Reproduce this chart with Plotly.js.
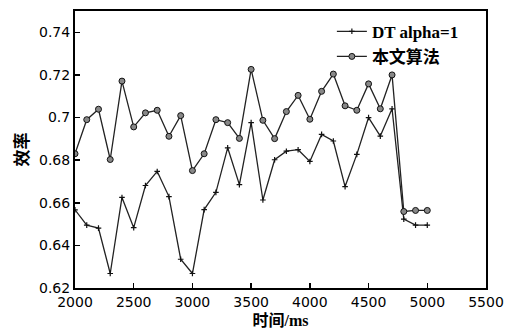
<!DOCTYPE html>
<html>
<head>
<meta charset="utf-8">
<script src="https://cdn.plot.ly/plotly-3.0.1.min.js"></script>
<style>html,body{margin:0;padding:0;background:#fff;}#chart{width:507px;height:329px;}</style>
</head>
<body>
<div id="chart"></div>
<script>
const timeMs = [2000,2100,2200,2300,2400,2500,2600,2700,2800,2900,3000,3100,3200,3300,3400,3500,3600,3700,3800,3900,4000,4100,4200,4300,4400,4500,4600,4700,4800,4900,5000];
const dtAlpha1 = [0.6567,0.6495,0.6481,0.6268,0.6625,0.6483,0.6681,0.6747,0.6629,0.6335,0.6268,0.6568,0.6649,0.6858,0.6685,0.6976,0.6613,0.6802,0.6842,0.6849,0.6794,0.6921,0.6890,0.6676,0.6827,0.7000,0.6913,0.7041,0.6523,0.6495,0.6495];
const ours = [0.6830,0.6990,0.7039,0.6803,0.7171,0.6956,0.7022,0.7034,0.6912,0.7009,0.6751,0.6830,0.6990,0.6976,0.6902,0.7226,0.6987,0.6901,0.7028,0.7104,0.6992,0.7123,0.7204,0.7055,0.7034,0.7158,0.7041,0.7200,0.6559,0.6564,0.6564];
const seriesNames = ['DT alpha=1','本文算法'];
const xTickVals = [2000,2500,3000,3500,4000,4500,5000,5500];
const yTickVals = [0.62,0.64,0.66,0.68,0.70,0.72,0.74];

const traces = [
  {x: timeMs, y: dtAlpha1, name: seriesNames[0], type: 'scatter', mode: 'lines+markers',
   line: {color: '#222', width: 1.3},
   marker: {symbol: 'cross-thin', size: 4, line: {color: '#111', width: 1.2}}},
  {x: timeMs, y: ours, name: seriesNames[1], type: 'scatter', mode: 'lines+markers',
   line: {color: '#222', width: 1.3},
   marker: {symbol: 'circle', size: 6, color: '#888', line: {color: '#111', width: 1}}}
];

const layout = {
  width: 507, height: 329,
  margin: {l: 75, r: 21, t: 11, b: 41},
  paper_bgcolor: '#fff', plot_bgcolor: '#fff',
  font: {family: 'DejaVu Sans, Noto Sans CJK SC', color: '#000', size: 14},
  showlegend: true,
  legend: {x: 0.625, y: 0.99, xanchor: 'left', yanchor: 'top', bgcolor: 'rgba(0,0,0,0)',
           font: {family: 'Liberation Serif, Noto Sans CJK SC', size: 17, color: '#000', weight: 'bold'},
           tracegroupgap: 0, itemwidth: 30},
  xaxis: {range: [2000, 5500], tickvals: xTickVals, ticks: 'inside', ticklen: 5, tickwidth: 1.5,
          tickcolor: '#000', showline: true, linecolor: '#000', linewidth: 2, mirror: true,
          showgrid: false, zeroline: false, tickfont: {size: 14},
          title: {text: '时间/ms', standoff: 8, font: {family: 'Liberation Serif, Noto Sans CJK SC', size: 16, weight: 'bold'}}},
  yaxis: {range: [0.62, 0.75], tickvals: yTickVals, ticks: 'inside', ticklen: 5, tickwidth: 1.5,
          tickcolor: '#000', showline: true, linecolor: '#000', linewidth: 2, mirror: true,
          showgrid: false, zeroline: false, tickfont: {size: 14},
          title: {text: '效率', standoff: 6, font: {family: 'Noto Sans CJK SC', size: 17, weight: 'bold'}}}
};

Plotly.newPlot('chart', traces, layout, {displayModeBar: false, staticPlot: true});
</script>
</body>
</html>
